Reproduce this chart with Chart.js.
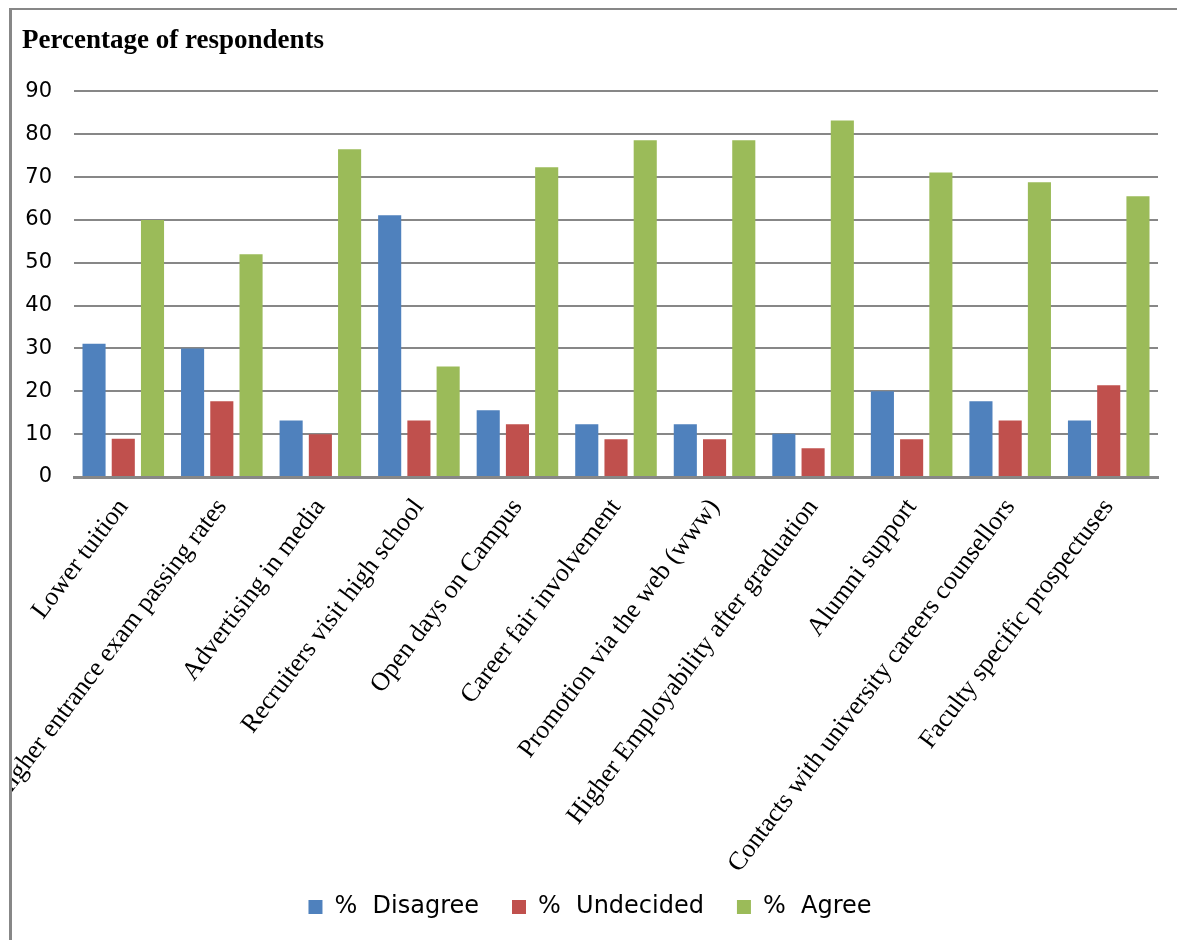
<!DOCTYPE html>
<html>
<head>
<meta charset="utf-8">
<title>Percentage of respondents</title>
<script src="https://cdn.jsdelivr.net/npm/chart.js@4.4.0/dist/chart.umd.min.js"></script>
<style>
  html, body { margin: 0; background: #fff; }
  #frame {
    position: absolute; left: 9px; top: 8px;
    width: 1165px; height: 930px;
    border-left: 3px solid #878787; border-top: 2px solid #878787;
    overflow: hidden;
  }
  #chart { display: block; }
</style>
</head>
<body>
<div id="frame"><canvas id="chart" width="1165" height="930"></canvas></div>
<script>
/* ── DATA ── */
const categories = [
  'Lower tuition',
  'Higher entrance exam passing rates',
  'Advertising in media',
  'Recruiters visit high school',
  'Open days on Campus',
  'Career fair involvement',
  'Promotion via the web (www)',
  'Higher Employability after graduation',
  'Alumni support',
  'Contacts with university careers counsellors',
  'Faculty specific prospectuses',
];

const disagree  = [31.1, 30.0, 13.2, 61.1, 15.6, 12.3, 12.3, 10.1, 20.0, 17.7, 13.2];
const undecided = [ 8.9, 17.7, 10.0, 13.2, 12.3,  8.8,  8.8,  6.7,  8.8, 13.2, 21.4];
const agree     = [60.0, 52.0, 76.5, 25.8, 72.3, 78.6, 78.6, 83.2, 71.1, 68.8, 65.5];

const yMin = 0, yMax = 90, yStep = 10;

/* ── CHART ── */
const gridGrey = '#878787';

// long category names hang below the axis box, so let them draw unclipped
const looseLabels = {
  id: 'looseLabels',
  beforeDraw(chart) {
    chart.scales.x._computeLabelArea = () => undefined;
  }
};

new Chart(document.getElementById('chart'), {
  type: 'bar',
  data: {
    labels: categories,
    datasets: [
      { label: '%  Disagree',  data: disagree,  backgroundColor: '#4F81BD' },
      { label: '%  Undecided', data: undecided, backgroundColor: '#C0504D' },
      { label: '%  Agree',     data: agree,     backgroundColor: '#9BBB59' },
    ]
  },
  plugins: [looseLabels],
  options: {
    responsive: false,
    animation: false,
    categoryPercentage: 0.89,
    barPercentage: 0.79,
    layout: { autoPadding: false, padding: { left: 10, right: 19, top: 2, bottom: 11 } },
    plugins: {
      title: {
        display: true,
        text: 'Percentage of respondents',
        align: 'start',
        color: '#000',
        font: { family: '"Liberation Serif", serif', size: 27, weight: 'bold' },
        padding: { top: 13, bottom: 34 }
      },
      legend: {
        position: 'bottom',
        labels: {
          boxWidth: 14, boxHeight: 14, padding: 33,
          color: '#000',
          font: { family: '"DejaVu Sans", sans-serif', size: 24 }
        }
      },
      tooltip: { enabled: false }
    },
    scales: {
      x: {
        grid: { display: false, drawTicks: false },
        border: { display: true, color: gridGrey, width: 3 },
        ticks: {
          autoSkip: false, minRotation: 53, maxRotation: 53, padding: 16,
          color: '#000',
          font: { family: '"Liberation Serif", serif', size: 26 }
        },
        afterFit: s => { s.height = 385; }
      },
      y: {
        min: yMin, max: yMax,
        grid: { color: gridGrey, lineWidth: 2, drawTicks: false },
        border: { display: false },
        ticks: {
          stepSize: yStep, padding: 22,
          color: '#000',
          font: { family: '"DejaVu Sans", sans-serif', size: 21 }
        },
        afterFit: s => { s.width = 52; }
      }
    }
  }
});
</script>
</body>
</html>
